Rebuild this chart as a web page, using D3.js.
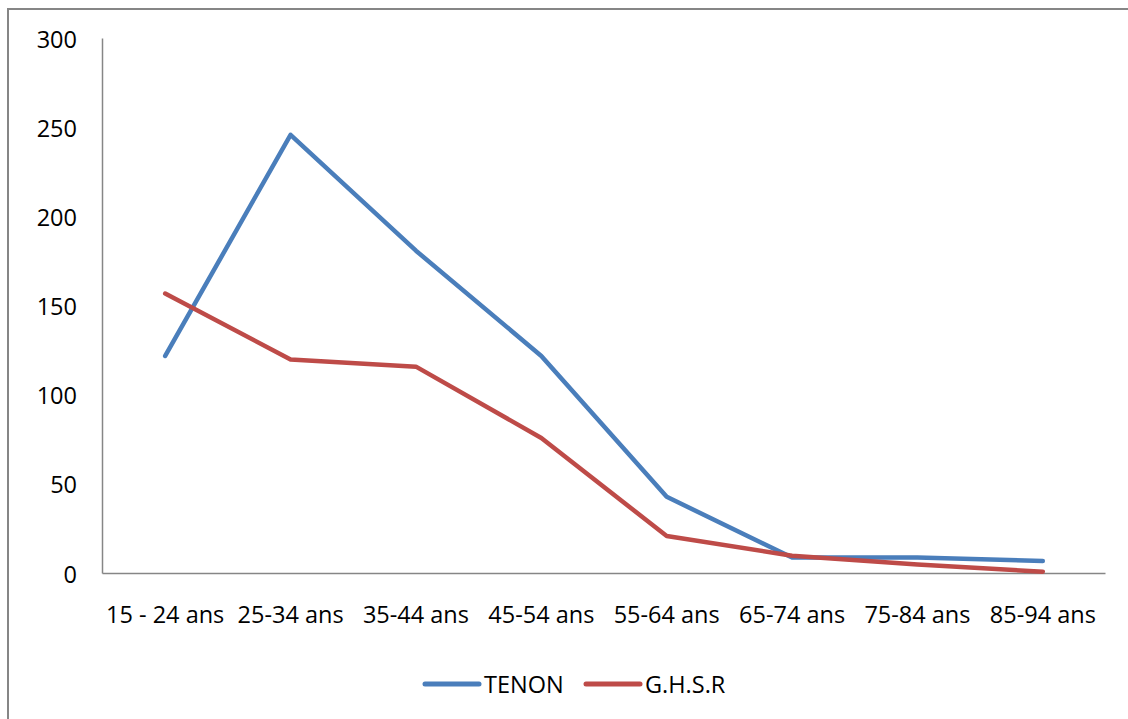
<!DOCTYPE html>
<html>
<head>
<meta charset="utf-8">
<script src="https://cdn.jsdelivr.net/npm/d3@7"></script>
<style>
  body { margin: 0; background: #fff; }
  .label { font-family: "Open Sans", sans-serif; font-size: 23.5px; fill: #000; }
</style>
</head>
<body>
<svg id="chart" width="1128" height="719"></svg>
<script>
// age groups on the x axis
const categories = ["15 - 24 ans", "25-34 ans", "35-44 ans", "45-54 ans",
                    "55-64 ans", "65-74 ans", "75-84 ans", "85-94 ans"];
const tenon = [122, 246, 181, 122, 43, 9, 9, 7];
const ghsr = [157, 120, 116, 76, 21, 10, 5, 1];
const yTicks = [0, 50, 100, 150, 200, 250, 300];
const seriesNames = ["TENON", "G.H.S.R"];
const seriesColors = ["#4A7EBB", "#BE4B48"];

const svg = d3.select("#chart");

// outer chart border (runs off the right/bottom of the picture)
svg.append("rect")
    .attr("x", 8).attr("y", 9)
    .attr("width", 1300).attr("height", 900)
    .style("fill", "none")
    .style("stroke", "#868686")
    .style("stroke-width", 2);

let x = d3.scaleBand().domain(categories).range([102.5, 1105.5]);
let y = d3.scaleLinear().domain([0, 300]).range([573.5, 38.5]);

// y axis labels
svg.selectAll(".ylab").data(yTicks).join("text")
    .attr("class", "label")
    .attr("x", 77)
    .attr("y", d => y(d))
    .attr("text-anchor", "end")
    .attr("dominant-baseline", "central")
    .text(d => d);

// x axis labels
svg.selectAll(".xlab").data(categories).join("text")
    .attr("class", "label")
    .attr("x", d => x(d) + x.bandwidth() / 2)
    .attr("y", 623)
    .attr("text-anchor", "middle")
    .text(d => d);

// axis lines
svg.append("line")
    .attr("x1", 102.5).attr("x2", 102.5)
    .attr("y1", y(300)).attr("y2", y(0))
    .style("stroke", "#868686").style("stroke-width", 1.5);
svg.append("line")
    .attr("x1", 102.5).attr("x2", 1105.5)
    .attr("y1", y(0)).attr("y2", y(0))
    .style("stroke", "#868686").style("stroke-width", 1.5);

let line = d3.line()
    .x((d, i) => x(categories[i]) + x.bandwidth() / 2)
    .y(d => y(d));

[tenon, ghsr].forEach((s, i) => {
    svg.append("path")
        .attr("d", line(s))
        .style("fill", "none")
        .style("stroke", seriesColors[i])
        .style("stroke-width", 4.5)
        .style("stroke-linecap", "round")
        .style("stroke-linejoin", "round");
});

// legend
let legendX = [425, 586];
let legend = svg.selectAll(".leg").data(seriesNames).join("g")
    .attr("transform", (d, i) => "translate(" + legendX[i] + ",684)");
legend.append("line")
    .attr("x1", 0).attr("x2", 54)
    .attr("y1", 0).attr("y2", 0)
    .style("stroke", (d, i) => seriesColors[i])
    .style("stroke-width", 5)
    .style("stroke-linecap", "round");
legend.append("text")
    .attr("class", "label")
    .attr("x", 59)
    .attr("y", 0)
    .attr("dominant-baseline", "central")
    .text(d => d);
</script>
</body>
</html>
